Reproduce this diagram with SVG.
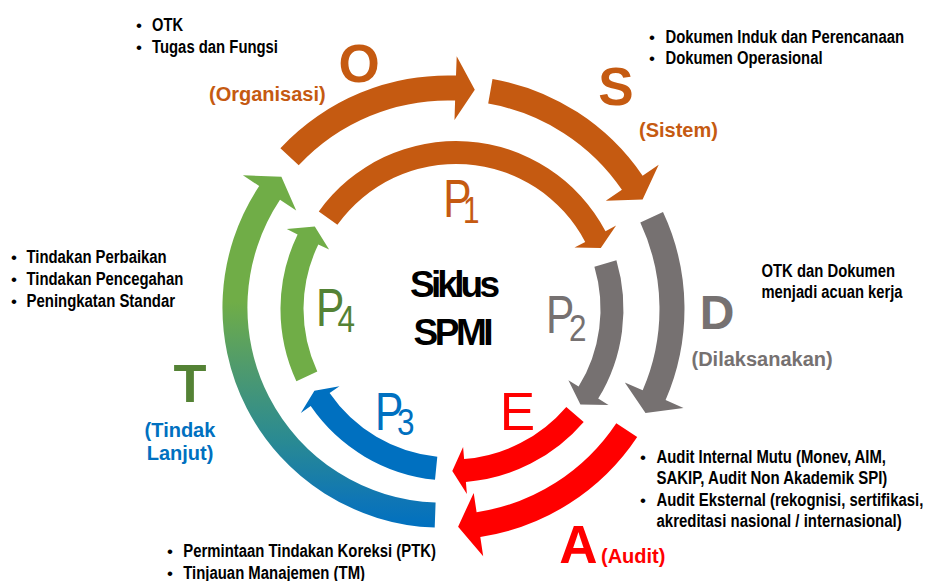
<svg xmlns="http://www.w3.org/2000/svg" width="925" height="581" viewBox="0 0 925 581">
<defs>
<linearGradient id="gT" gradientUnits="userSpaceOnUse" x1="0" y1="175" x2="0" y2="528">
<stop offset="0" stop-color="#70AD47"/>
<stop offset="0.36" stop-color="#70AD47"/>
<stop offset="0.55" stop-color="#4E9A6E"/>
<stop offset="0.75" stop-color="#2A8A92"/>
<stop offset="0.92" stop-color="#0F76B5"/>
<stop offset="1" stop-color="#0070C0"/>
</linearGradient>
<style>
.body{font-family:"Liberation Sans Narrow","Liberation Sans",Arial,sans-serif;font-weight:bold;font-size:17.5px;fill:#000}
.bul{font-family:"Liberation Sans",Arial,sans-serif;font-size:17px;fill:#000;text-anchor:middle}
.big{font-family:"Liberation Sans",Arial,sans-serif;font-weight:bold;font-size:53px;text-anchor:middle}
.lbl{font-family:"Liberation Sans",Arial,sans-serif;font-weight:bold;font-size:20px}
.pl{font-family:"Liberation Sans",Arial,sans-serif;font-size:53px}
.sub{font-family:"Liberation Sans",Arial,sans-serif;font-size:37px}
.ctr{font-family:"Liberation Sans",Arial,sans-serif;font-weight:bold;font-size:37px;fill:#000}
.or{fill:#C55A11}.gr{fill:#767171}.rd{fill:#FF0000}.bl{fill:#0070C0}.gn{fill:#70AD47}.dg{fill:#548235}
</style>
</defs>
<rect width="925" height="581" fill="#fff"/>
<g id="connectors">
<path class="or" d="M280.4,148.2 A229.5,229.5 0 0 1 456.0,75.6 L456.7,56.2 L474.8,89.7 L454.5,120.1 L455.1,100.6 A204.5,204.5 0 0 0 298.7,165.3 Z"/>
<path class="or" d="M492.5,78.9 A229.5,229.5 0 0 1 642.6,175.7 L658.7,164.7 L642.6,199.5 L605.8,200.8 L621.9,189.8 A204.5,204.5 0 0 0 488.2,103.6 Z"/>
<path class="gr" d="M663.0,212.0 A229.5,229.5 0 0 1 665.6,400.1 L683.5,407.9 L645.5,412.9 L624.8,382.5 L642.7,390.2 A204.5,204.5 0 0 0 640.3,222.6 Z"/>
<path class="rd" d="M637.2,437.0 A229.5,229.5 0 0 1 480.3,536.9 L483.2,556.2 L458.1,526.7 L473.7,492.9 L476.6,512.2 A204.5,204.5 0 0 0 616.3,423.2 Z"/>
<path fill="url(#gT)" d="M434.7,527.6 A220,220 0 0 1 259.2,186.0 L242.9,175.2 L281.4,176.8 L296.2,210.6 L280.0,199.8 A195,195 0 0 0 435.6,502.6 Z"/>
<path class="or" d="M318.8,211.4 A169,169 0 0 1 605.5,231.2 L616.1,225.6 L600.8,248.0 L574.5,247.5 L585.2,241.9 A146,146 0 0 0 337.4,224.8 Z"/>
<path class="gr" d="M616.4,260.3 A171.5,171.5 0 0 1 598.2,398.6 L608.5,404.9 L580.4,404.4 L568.4,380.3 L578.6,386.6 A148.5,148.5 0 0 0 594.4,266.8 Z"/>
<path class="rd" d="M583.7,421.9 A173.5,173.5 0 0 1 465.9,481.9 L466.9,493.9 L452.3,471 L463.1,447.1 L464.1,459.0 A150.5,150.5 0 0 0 566.3,406.9 Z"/>
<path class="bl" d="M435.0,479.7 A171.5,171.5 0 0 1 310.7,406.1 L300.8,412.9 L314.4,390.7 L339.5,386.3 L329.6,393.1 A148.5,148.5 0 0 0 437.3,456.8 Z"/>
<path class="gn" d="M296.4,381.2 A171.5,171.5 0 0 1 297.6,234.4 L286.8,229.1 L314.8,226.6 L329.1,249.6 L318.3,244.4 A148.5,148.5 0 0 0 317.3,371.5 Z"/>
</g>
<g id="node-O">
<text class="big or" x="359" y="81.5">O</text>
<text class="lbl or" x="209" y="100.5">(Organisasi)</text>
<text class="bul" x="139" y="31">•</text>
<text class="body" x="152" y="31" textLength="31" lengthAdjust="spacingAndGlyphs">OTK</text>
<text class="bul" x="139" y="52.5">•</text>
<text class="body" x="152" y="52.5" textLength="126" lengthAdjust="spacingAndGlyphs">Tugas dan Fungsi</text>
</g>
<g id="node-S">
<text class="big or" x="616" y="105">S</text>
<text class="lbl or" x="639" y="137">(Sistem)</text>
<text class="bul" x="652" y="42.5">•</text>
<text class="body" x="665.5" y="42.5" textLength="238.5" lengthAdjust="spacingAndGlyphs">Dokumen Induk dan Perencanaan</text>
<text class="bul" x="652" y="64">•</text>
<text class="body" x="665.5" y="64" textLength="157" lengthAdjust="spacingAndGlyphs">Dokumen Operasional</text>
</g>
<g id="node-D">
<text class="big gr" x="717" y="329" style="font-size:48px">D</text>
<text class="lbl gr" x="691.5" y="366">(Dilaksanakan)</text>
<text class="body" x="761.5" y="277" textLength="133.5" lengthAdjust="spacingAndGlyphs">OTK dan Dokumen</text>
<text class="body" x="761.5" y="297.5" textLength="141" lengthAdjust="spacingAndGlyphs">menjadi acuan kerja</text>
</g>
<g id="node-A">
<text class="big rd" x="578.5" y="563">A</text>
<text class="lbl rd" x="601" y="563">(Audit)</text>
<text class="bul" x="643" y="462.7">•</text>
<text class="body" x="656.5" y="462.7" textLength="229.5" lengthAdjust="spacingAndGlyphs">Audit Internal Mutu (Monev, AIM,</text>
<text class="body" x="656.5" y="484" textLength="230.8" lengthAdjust="spacingAndGlyphs">SAKIP, Audit Non Akademik SPI)</text>
<text class="bul" x="643" y="505.5">•</text>
<text class="body" x="656.5" y="505.5" textLength="266.8" lengthAdjust="spacingAndGlyphs">Audit Eksternal (rekognisi, sertifikasi,</text>
<text class="body" x="656.5" y="526.7" textLength="245.2" lengthAdjust="spacingAndGlyphs">akreditasi nasional / internasional)</text>
</g>
<g id="node-T">
<text class="big dg" x="190" y="401.5" style="font-size:54px">T</text>
<text class="lbl bl" x="180" y="436.7" text-anchor="middle">(Tindak</text>
<text class="lbl bl" x="180" y="460" text-anchor="middle">Lanjut)</text>
<text class="bul" x="14" y="263">•</text>
<text class="body" x="26.5" y="263" textLength="140.2" lengthAdjust="spacingAndGlyphs">Tindakan Perbaikan</text>
<text class="bul" x="14" y="285">•</text>
<text class="body" x="26.5" y="285" textLength="156.8" lengthAdjust="spacingAndGlyphs">Tindakan Pencegahan</text>
<text class="bul" x="14" y="307">•</text>
<text class="body" x="26.5" y="307" textLength="148.5" lengthAdjust="spacingAndGlyphs">Peningkatan Standar</text>
<text class="bul" x="170" y="557">•</text>
<text class="body" x="183.3" y="557" textLength="252.7" lengthAdjust="spacingAndGlyphs">Permintaan Tindakan Koreksi (PTK)</text>
<text class="bul" x="170" y="578.5">•</text>
<text class="body" x="183.3" y="578.5" textLength="181.7" lengthAdjust="spacingAndGlyphs">Tinjauan Manajemen (TM)</text>
</g>
<g id="node-P1">
<text class="pl or" x="443.3" y="216.7" textLength="28.3" lengthAdjust="spacingAndGlyphs">P</text>
<text class="sub or" x="463" y="223.3" textLength="16.5" lengthAdjust="spacingAndGlyphs">1</text>
</g>
<g id="node-P2">
<text class="pl gr" x="546" y="333.3" textLength="28.3" lengthAdjust="spacingAndGlyphs">P</text>
<text class="sub gr" x="569" y="340.7" textLength="17.5" lengthAdjust="spacingAndGlyphs">2</text>
</g>
<g id="node-E">
<text class="pl rd" x="517.5" y="430" text-anchor="middle">E</text>
</g>
<g id="node-P3">
<text class="pl bl" x="375" y="430" textLength="28.3" lengthAdjust="spacingAndGlyphs">P</text>
<text class="sub bl" x="397" y="435" textLength="17.5" lengthAdjust="spacingAndGlyphs">3</text>
</g>
<g id="node-P4">
<text class="pl dg" x="316" y="326" textLength="28.3" lengthAdjust="spacingAndGlyphs">P</text>
<text class="sub dg" x="337.5" y="331.7" textLength="17.5" lengthAdjust="spacingAndGlyphs">4</text>
</g>
<g id="node-center">
<text class="ctr" x="410" y="296.7" textLength="90" lengthAdjust="spacing">Siklus</text>
<text class="ctr" x="413.5" y="345" textLength="80" lengthAdjust="spacing">SPMI</text>
</g>
</svg>
